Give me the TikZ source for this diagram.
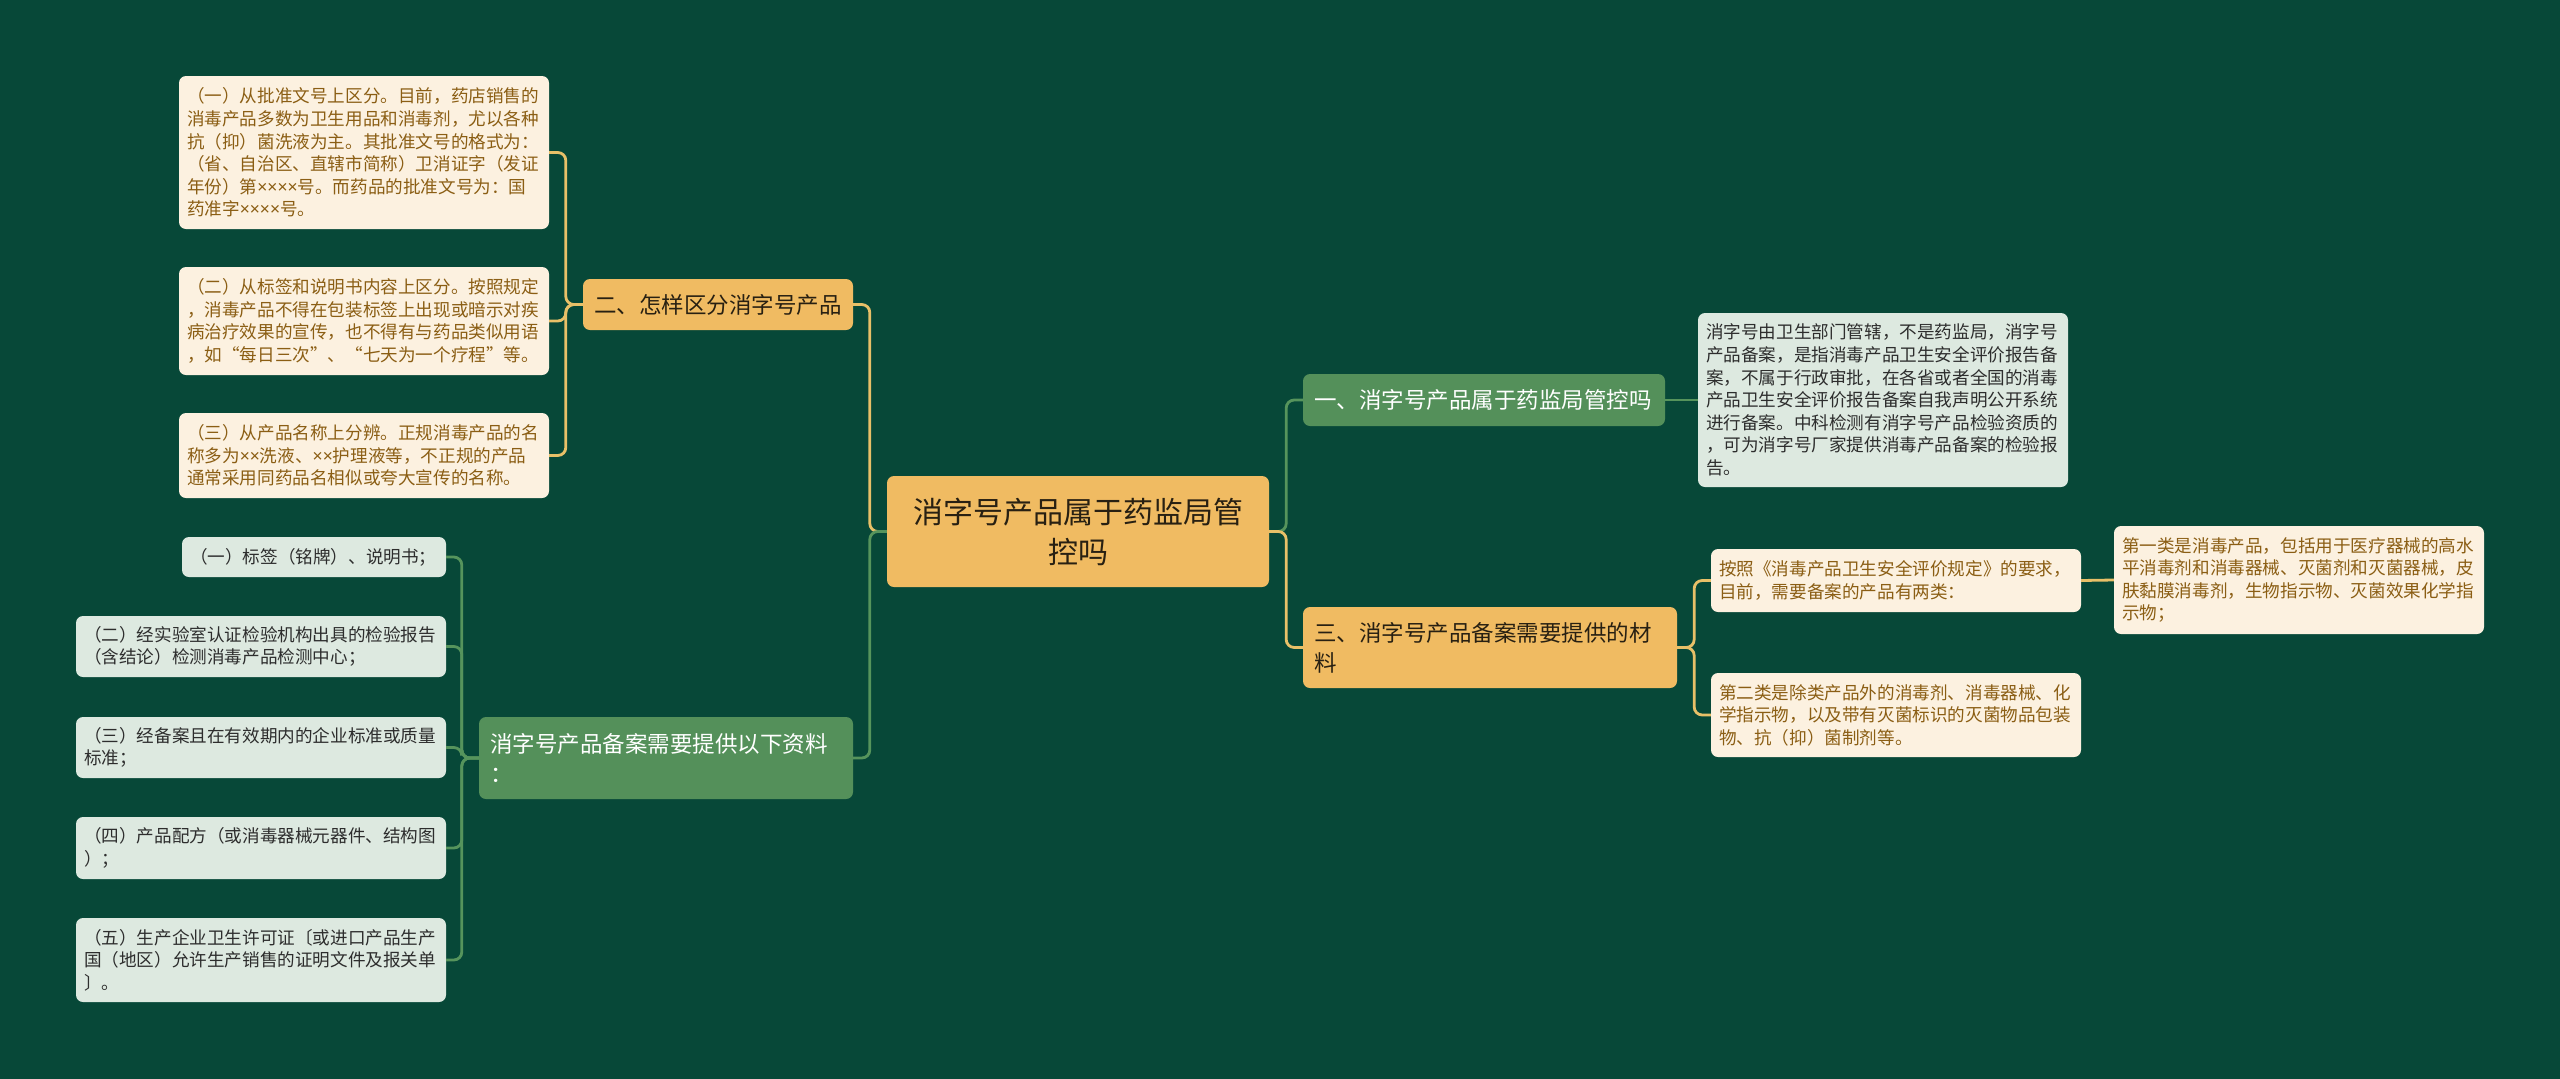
\documentclass[tikz,border=0pt]{standalone}
\usepackage{fontspec}
\newfontfamily\cjk{Noto Sans CJK SC}
\newfontfamily\latf{Noto Sans}
\newcommand\myx{{\latf ×}}
\definecolor{bg}{RGB}{7,72,56}
\definecolor{orangenode}{RGB}{240,187,98}
\definecolor{greennode}{RGB}{84,144,90}
\definecolor{cream}{RGB}{252,241,224}
\definecolor{paleleaf}{RGB}{221,233,224}
\definecolor{browntext}{RGB}{139,94,20}
\definecolor{darktext}{RGB}{45,45,45}
\definecolor{nodetext}{RGB}{40,32,18}
\definecolor{orangeline}{RGB}{232,192,104}
\definecolor{greenline}{RGB}{86,148,92}
\begin{document}
\begin{tikzpicture}[x=1pt,y=-1pt,
  leaf/.style={rounded corners=7pt, inner xsep=8pt, inner ysep=0pt, align=left,
    font=\cjk\fontsize{17.6}{22.6}\selectfont},
  cream/.style={leaf, fill=cream, text=browntext},
  pale/.style={leaf, fill=paleleaf, text=darktext},
  topic/.style={rounded corners=7pt, inner xsep=11pt, inner ysep=0pt, align=left,
    font=\cjk\fontsize{22.5}{30}\selectfont},
  onode/.style={topic, fill=orangenode, text=nodetext},
  gnode/.style={topic, fill=greennode, text=white},
  oline/.style={draw=orangeline, line width=2.8pt, rounded corners=8pt},
  gline/.style={draw=greenline, line width=2.8pt, rounded corners=8pt},
]
\useasboundingbox[fill=bg] (0,0) rectangle (2560,1079);

% root
\node[rounded corners=7pt, fill=orangenode, text=nodetext, inner sep=0pt, align=center,
  minimum width=382pt, minimum height=111pt, text width=360pt,
  font=\cjk\fontsize{30}{40}\selectfont] (root) at (1078,531.5)
  {消字号产品属于药监局管\\控吗};

% main topics
\node[onode, minimum height=51pt, text width=248pt] (n2) at (718,304.5) {二、怎样区分消字号产品};
\node[gnode, minimum height=82pt, text width=352pt] (nz) at (666,758) {消字号产品备案需要提供以下资料\\：};
\node[gnode, minimum height=52pt, text width=340pt] (n1) at (1484,400) {一、消字号产品属于药监局管控吗};
\node[onode, minimum height=81pt, text width=352pt] (n3) at (1490,647.5) {三、消字号产品备案需要提供的材\\料};

% top-left leaves
\node[cream, minimum height=153pt, text width=354pt] (L1) at (364,152.5)
  {（一）从批准文号上区分。目前，药店销售的\\消毒产品多数为卫生用品和消毒剂，尤以各种\\抗（抑）菌洗液为主。其批准文号的格式为：\\（省、自治区、直辖市简称）卫消证字（发证\\年份）第\myx\myx\myx\myx 号。而药品的批准文号为：国\\药准字\myx\myx\myx\myx 号。};
\node[cream, minimum height=108pt, text width=354pt] (L2) at (364,321)
  {（二）从标签和说明书内容上区分。按照规定\\，消毒产品不得在包装标签上出现或暗示对疾\\病治疗效果的宣传，也不得有与药品类似用语\\，如“每日三次”、“七天为一个疗程”等。};
\node[cream, minimum height=85pt, text width=354pt] (L3) at (364,455.5)
  {（三）从产品名称上分辨。正规消毒产品的名\\称多为\myx\myx 洗液、\myx\myx 护理液等，不正规的产品\\通常采用同药品名相似或夸大宣传的名称。};

% bottom-left leaves
\node[pale, minimum height=40pt, text width=248pt] (B1) at (314,557) {（一）标签（铭牌）、说明书；};
\node[pale, minimum height=61pt, text width=354pt] (B2) at (261,646.5)
  {（二）经实验室认证检验机构出具的检验报告\\（含结论）检测消毒产品检测中心；};
\node[pale, minimum height=61pt, text width=354pt] (B3) at (261,747.5)
  {（三）经备案且在有效期内的企业标准或质量\\标准；};
\node[pale, minimum height=62pt, text width=354pt] (B4) at (261,848)
  {（四）产品配方（或消毒器械元器件、结构图\\）；};
\node[pale, minimum height=84pt, text width=354pt] (B5) at (261,960)
  {（五）生产企业卫生许可证〔或进口产品生产\\国（地区）允许生产销售的证明文件及报关单\\〕。};

% right leaves
\node[pale, minimum height=174pt, text width=354pt] (R1) at (1883,400)
  {消字号由卫生部门管辖，不是药监局，消字号\\产品备案，是指消毒产品卫生安全评价报告备\\案，不属于行政审批，在各省或者全国的消毒\\产品卫生安全评价报告备案自我声明公开系统\\进行备案。中科检测有消字号产品检验资质的\\，可为消字号厂家提供消毒产品备案的检验报\\告。};
\node[cream, minimum height=63pt, text width=354pt] (R2) at (1896,580.5)
  {按照《消毒产品卫生安全评价规定》的要求，\\目前，需要备案的产品有两类：};
\node[cream, minimum height=84pt, text width=354pt] (R3) at (1896,715)
  {第二类是除类产品外的消毒剂、消毒器械、化\\学指示物，以及带有灭菌标识的灭菌物品包装\\物、抗（抑）菌制剂等。};
\node[cream, minimum height=108pt, text width=354pt] (R4) at (2299,580)
  {第一类是消毒产品，包括用于医疗器械的高水\\平消毒剂和消毒器械、灭菌剂和灭菌器械，皮\\肤黏膜消毒剂，生物指示物、灭菌效果化学指\\示物；};

% connectors
\draw[oline] (root.west) -- ++(-17,0) |- (n2.east);
\draw[gline] (root.west) -- ++(-17,0) |- (nz.east);
\draw[gline] (root.east) -- ++(17,0) |- (n1.west);
\draw[oline] (root.east) -- ++(17,0) |- (n3.west);

\draw[oline] (n2.west) -- ++(-17,0) |- (L1.east);
\draw[oline] (n2.west) -- ++(-17,0) |- (L2.east);
\draw[oline] (n2.west) -- ++(-17,0) |- (L3.east);

\draw[gline] (nz.west) -- ++(-17,0) |- (B1.east);
\draw[gline] (nz.west) -- ++(-17,0) |- (B2.east);
\draw[gline] (nz.west) -- ++(-17,0) |- (B3.east);
\draw[gline] (nz.west) -- ++(-17,0) |- (B4.east);
\draw[gline] (nz.west) -- ++(-17,0) |- (B5.east);

\draw[gline] (n1.east) -- (R1.west);
\draw[oline] (n3.east) -- ++(17,0) |- (R2.west);
\draw[oline] (n3.east) -- ++(17,0) |- (R3.west);
\draw[oline] (R2.east) -- (R4.west);
\end{tikzpicture}
\end{document}
